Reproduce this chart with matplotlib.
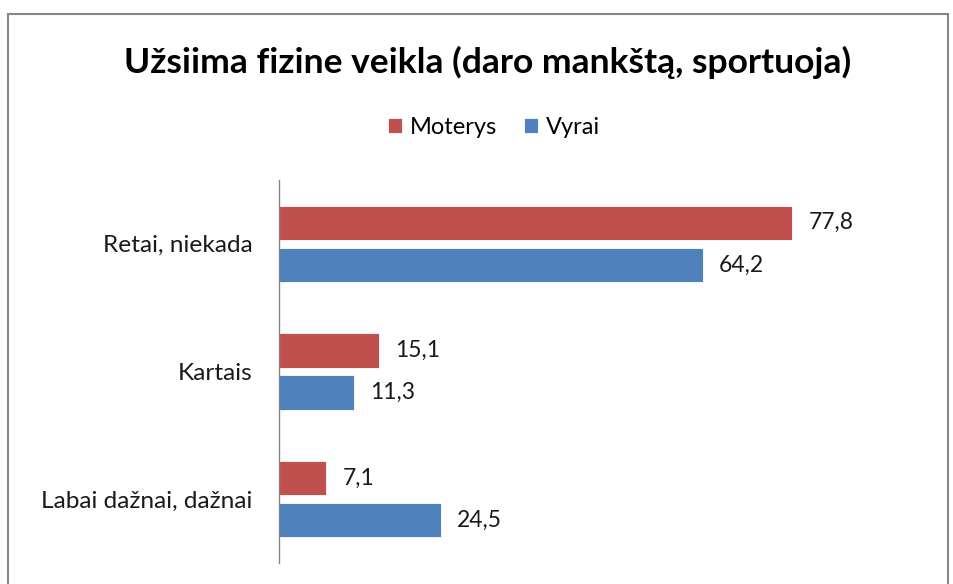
import matplotlib.pyplot as plt
from matplotlib.patches import Rectangle

categories = ["Retai, niekada", "Kartais", "Labai dažnai, dažnai"]
moterys = [77.8, 15.1, 7.1]
vyrai = [64.2, 11.3, 24.5]
series_names = ["Moterys", "Vyrai"]
title = "Užsiima fizine veikla (daro mankštą, sportuoja)"

RED = "#C0504D"
BLUE = "#4F81BD"
W, H = 954, 584

plt.rcParams["font.family"] = ["Lato", "DejaVu Sans"]

fig = plt.figure(figsize=(W / 100, H / 100), dpi=100)

# outer chart border (bottom edge is cut off in the original)
fig.patches.append(Rectangle((8 / W, -0.05), (948 - 8) / W, 1.05 - 14 / H,
                             transform=fig.transFigure, fill=False,
                             edgecolor="#868686", linewidth=1.5))

ax = fig.add_axes([279 / W, (H - 563) / H, (873 - 279) / W, (563 - 180) / H])

ypos = list(range(len(categories)))
off = 0.165
hgt = 0.27
ax.barh([y - off for y in ypos], moterys, height=hgt, color=RED,
        edgecolor="white", linewidth=0.6, label=series_names[0])
ax.barh([y + off for y in ypos], vyrai, height=hgt, color=BLUE,
        edgecolor="white", linewidth=0.6, label=series_names[1])

for y, v in zip(ypos, moterys):
    ax.text(v + 2.5, y - off, str(v).replace(".", ","), va="center",
            ha="left", fontsize=16.5, color="#1a1a1a")
for y, v in zip(ypos, vyrai):
    ax.text(v + 2.5, y + off, str(v).replace(".", ","), va="center",
            ha="left", fontsize=16.5, color="#1a1a1a")

ax.set_xlim(0, 90)
ax.set_ylim(len(categories) - 0.5, -0.5)
ax.set_yticks(ypos)
ax.set_yticklabels(categories, fontsize=17.6, color="#1a1a1a")
ax.tick_params(axis="y", length=0, pad=19)
ax.set_xticks([])
for s in ["top", "right", "bottom"]:
    ax.spines[s].set_visible(False)
ax.spines["left"].set_color("#868686")
ax.spines["left"].set_linewidth(1.0)

fig.text(488 / W, 1 - 62 / H, title, ha="center", va="center",
         fontsize=25.5, fontweight="bold", color="black")

fig.legend(loc="center", bbox_to_anchor=(494 / W, 1 - 127 / H), ncol=2,
           frameon=False, fontsize=17, handlelength=0.6, handleheight=0.6,
           handletextpad=0.35, columnspacing=1.1)

fig.savefig("out.png", dpi=100)
